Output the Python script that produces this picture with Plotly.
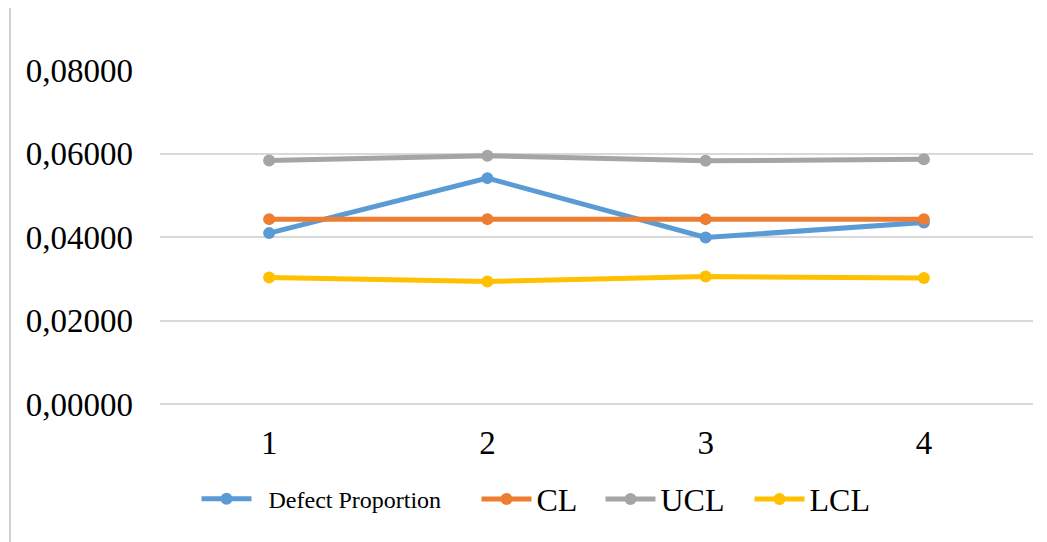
import plotly.graph_objects as go

samples = [1, 2, 3, 4]
defect_proportion = [0.04093, 0.05410, 0.03988, 0.04347]
cl = [0.04428, 0.04428, 0.04428, 0.04428]
ucl = [0.05831, 0.05944, 0.05824, 0.05865]
lcl = [0.03030, 0.02935, 0.03054, 0.03016]
y_ticks = [0.0, 0.02, 0.04, 0.06, 0.08]

series_names = ["\u00a0\u00a0Defect Proportion", "CL", "UCL", "LCL"]
series_values = [defect_proportion, cl, ucl, lcl]
series_colors = ["#5B9BD5", "#ED7D31", "#A5A5A5", "#FFC000"]
legend_ids = ["legend", "legend2", "legend3", "legend4"]

FONT = "Liberation Serif"
W, H = 1039, 534          # page body has an 8px margin
ML, MR, MT = 152, 14, 62
PLOT_W = W - ML - MR
PLOT_H = 334.3
MB = H - MT - PLOT_H

def px_to_paper_x(px):
    return (px - 8 - ML) / PLOT_W

fig = go.Figure()
for name, vals, color, lg in zip(series_names, series_values, series_colors, legend_ids):
    fig.add_trace(go.Scatter(
        x=samples, y=vals, name=name, mode="lines+markers",
        line=dict(color=color, width=5),
        marker=dict(color=color, size=12),
        legend=lg,
    ))

legend_left_px = [196.5, 476.5, 600.5, 749.5]
legend_font_sizes = [24, 32, 32, 32]
legend_y = -0.285
legends = {}
for lg, lx, fs in zip(legend_ids, legend_left_px, legend_font_sizes):
    legends[lg] = dict(
        orientation="h", x=px_to_paper_x(lx), xanchor="left",
        y=legend_y, yanchor="middle",
        font=dict(family=FONT, size=fs, color="black"),
        itemwidth=50, bgcolor="rgba(0,0,0,0)",
    )

fig.update_layout(
    width=W, height=H,
    margin=dict(l=ML, r=MR, t=MT, b=MB),
    paper_bgcolor="white", plot_bgcolor="white",
    separators=",.",
    font=dict(family=FONT, color="black", size=33),
    showlegend=True,
    xaxis=dict(
        range=[0.5, 4.5], tickvals=samples, ticktext=[str(s) for s in samples],
        showgrid=False, zeroline=False, showline=False,
        tickfont=dict(family=FONT, size=33), ticklabelstandoff=16,
    ),
    yaxis=dict(
        range=[0, 0.08], tickvals=y_ticks, tickformat=".5f",
        showgrid=True, gridcolor="#D9D9D9", gridwidth=1.5,
        zeroline=True, zerolinecolor="#D9D9D9", zerolinewidth=1.5,
        showline=False, tickfont=dict(family=FONT, size=33),
        ticklabelstandoff=26,
    ),
    shapes=[dict(type="line", xref="paper", yref="paper",
                 x0=px_to_paper_x(10), x1=px_to_paper_x(10), y0=-0.45, y1=1.25,
                 line=dict(color="#BFBFBF", width=1.5))],
    **legends,
)

fig.write_html("out.html")
